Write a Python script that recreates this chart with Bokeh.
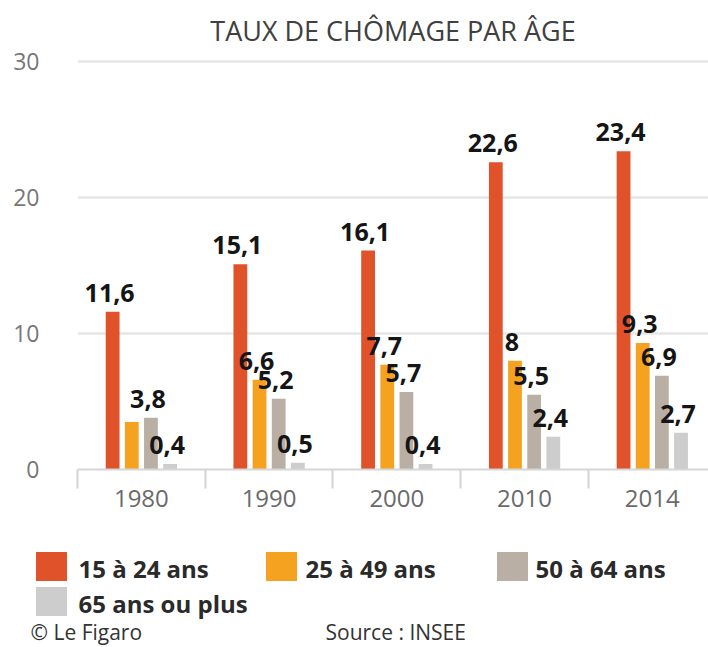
from bokeh.plotting import figure
from bokeh.models import Range1d, FixedTicker, ColumnDataSource
from bokeh.layouts import column
from bokeh.core.properties import value
from bokeh.embed import file_html
from bokeh.resources import INLINE

years = ["1980", "1990", "2000", "2010", "2014"]
series_names = ["15 à 24 ans", "25 à 49 ans", "50 à 64 ans", "65 ans ou plus"]
v_15_24 = [11.6, 15.1, 16.1, 22.6, 23.4]
v_25_49 = [3.5, 6.6, 7.7, 8.0, 9.3]
v_50_64 = [3.8, 5.2, 5.7, 5.5, 6.9]
v_65 = [0.4, 0.5, 0.4, 2.4, 2.7]
# the reference shows no value label on the 1980 "25 à 49 ans" bar
shown_25_49 = [False, True, True, True, True]
y_ticks = [0, 10, 20, 30]
title_text = "TAUX DE CHÔMAGE PAR ÂGE"
footer_left = "© Le Figaro"
footer_right = "Source : INSEE"

colors = ["#E0522A", "#F5A220", "#B9AFA5", "#CDCDCD"]
offsets = [-0.225, -0.075, 0.075, 0.225]
FONT = "Open Sans"

all_series = [v_15_24, v_25_49, v_50_64, v_65]
shown = [[True] * 5, shown_25_49, [True] * 5, [True] * 5]

p = figure(width=708, height=530, output_backend="svg", toolbar_location=None,
           x_range=Range1d(0, 4.94), y_range=Range1d(0, 34.49),
           min_border_left=77, min_border_right=0, min_border_top=0, min_border_bottom=61,
           title=None, frame_align=False)
p.outline_line_color = None
p.background_fill_color = "white"
p.border_fill_color = "white"

for vals, col, off, sh in zip(all_series, colors, offsets, shown):
    xs = [i + 0.5 + off for i in range(len(years))]
    src = ColumnDataSource(dict(x=xs, top=vals,
                                lab=[(f"{v:g}".replace(".", ",") if s else "") for v, s in zip(vals, sh)]))
    p.vbar(x="x", top="top", bottom=0, width=0.108, source=src,
           fill_color=col, line_color=None)
    p.text(x="x", y="top", text="lab", source=src, x_offset=-3, y_offset=-19,
           text_align="center", text_baseline="alphabetic",
           text_font=value(FONT), text_font_style="bold", text_font_size="25px",
           text_color="#151515")

# title
p.text(x=[2.47], y=[32.28], text=[title_text], text_align="center", text_baseline="middle",
       text_font=value(FONT), text_font_size="27px", text_color="#404040")

# axes
p.yaxis.ticker = FixedTicker(ticks=y_ticks)
p.yaxis.axis_line_color = None
p.yaxis.major_tick_line_color = None
p.yaxis.minor_tick_line_color = None
p.yaxis.major_label_standoff = 32
p.yaxis.major_label_text_font = FONT
p.yaxis.major_label_text_font_size = "23px"
p.yaxis.major_label_text_color = "#777777"

p.xaxis.ticker = FixedTicker(ticks=[i + 0.5 for i in range(len(years))],
                             minor_ticks=[float(i) for i in range(len(years) + 1)])
p.xaxis.major_label_overrides = {i + 0.5: y for i, y in enumerate(years)}
p.xaxis.major_tick_line_color = None
p.xaxis.major_tick_out = 0
p.xaxis.major_tick_in = 0
p.xaxis.minor_tick_out = 19
p.xaxis.minor_tick_in = 0
p.xaxis.minor_tick_line_color = "#D3D3D3"
p.xaxis.minor_tick_line_width = 2
p.xaxis.axis_line_color = "#D6D6D6"
p.xaxis.axis_line_width = 2
p.xaxis.major_label_standoff = 1
p.xaxis.major_label_text_font = FONT
p.xaxis.major_label_text_font_size = "24px"
p.xaxis.major_label_text_color = "#6a6a6a"

p.xgrid.grid_line_color = None
p.ygrid.grid_line_color = "#E6E6E6"
p.ygrid.grid_line_width = 2.5

# legend + footer panel (x = page px, y = page px - 530)
q = figure(width=708, height=117, output_backend="svg", toolbar_location=None,
           x_range=Range1d(0, 708), y_range=Range1d(117, 0),
           x_axis_location=None, y_axis_location=None,
           min_border=0, min_border_left=0, min_border_right=0,
           min_border_top=0, min_border_bottom=0, title=None, frame_align=False)
q.grid.visible = False
q.outline_line_color = None

leg_sq_x = [51, 281, 512, 51]
leg_sq_y = [36, 36, 36, 71]
leg_tx_x = [78, 305, 535, 78]
leg_tx_y = [38, 38, 38, 73]
q.rect(x=leg_sq_x, y=leg_sq_y, width=31, height=29, fill_color=colors, line_color=None)
q.text(x=leg_tx_x, y=leg_tx_y, text=series_names, text_align="left", text_baseline="middle",
       text_font=value(FONT), text_font_style="bold", text_font_size="24px", text_color="#2a2a2a")
q.text(x=[30, 325], y=[101, 101], text=[footer_left, footer_right], text_align="left",
       text_baseline="middle", text_font=value(FONT), text_font_size="21px", text_color="#333333")

layout = column(p, q, spacing=0)
open("out.html", "w").write(file_html(layout, INLINE))
